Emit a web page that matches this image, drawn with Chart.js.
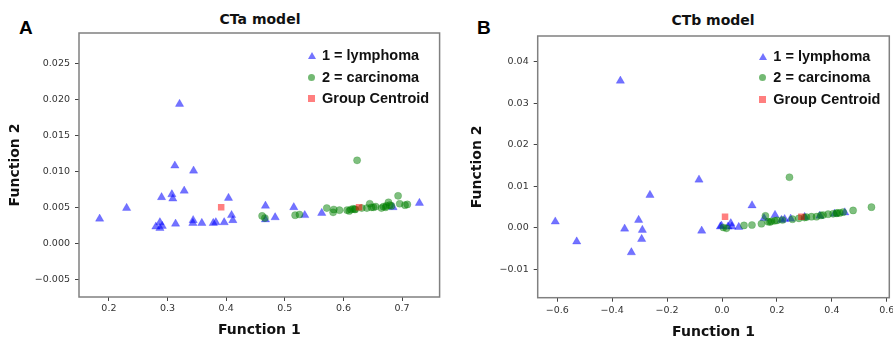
<!DOCTYPE html>
<html>
<head>
<meta charset="utf-8">
<script src="https://cdn.jsdelivr.net/npm/chart.js@4.4.0/dist/chart.umd.min.js"></script>
<style>
    html, body { margin: 0; padding: 0; background: #fff; }
    body { width: 893px; height: 341px; overflow: hidden; position: relative; }
    canvas { position: absolute; top: 0; }
    .panel-letter { position: absolute; font: bold 19px "Liberation Sans", Arial, sans-serif; line-height: 20px; color: #000; }
    .panel-title { position: absolute; width: 200px; text-align: center; font: bold 14px "DejaVu Sans", sans-serif; line-height: 16px; color: #111; }
    .legend-row { position: absolute; white-space: nowrap; font: bold 14.5px "Liberation Sans", Arial, sans-serif; line-height: 18px; color: #111; }
    .mk { position: absolute; }
    .mk.triangle { width: 0; height: 0; border-left: 4px solid transparent; border-right: 4px solid transparent; border-bottom: 7px solid rgba(0, 0, 255, 0.55); }
    .mk.circle { width: 7px; height: 7px; border-radius: 50%; background: rgba(0, 128, 0, 0.55); }
    .mk.rect { width: 7px; height: 7px; background: rgba(255, 0, 0, 0.5); }
</style>
</head>
<body>
<div class="panel-letter" style="left:19px; top:18px;">A</div>
<div class="panel-title" style="left:160px; top:11px;">CTa model</div>
<div class="panel-letter" style="left:477px; top:18px;">B</div>
<div class="panel-title" style="left:613px; top:12px;">CTb model</div>
<canvas id="ctaChart" width="445" height="341" style="left:0;"></canvas>
<canvas id="ctbChart" width="460" height="341" style="left:445px;"></canvas>
<div id="legendA"></div>
<div id="legendB"></div>
<script>
// 圖例
const seriesNames = ["1 = lymphoma", "2 = carcinoma", "Group Centroid"];

// CTa model [Function 1, Function 2]
const ctaLymphoma = [
    [0.3205, 0.0194], [0.3125, 0.0108], [0.3444, 0.0101], [0.3284, 0.0073], [0.3074, 0.0068],
    [0.309, 0.0062], [0.2898, 0.0064], [0.404, 0.0063], [0.2302, 0.0049], [0.1842, 0.0034],
    [0.4092, 0.0039], [0.4114, 0.0032], [0.3966, 0.0029], [0.3824, 0.0029], [0.378, 0.0028],
    [0.3585, 0.0028], [0.3437, 0.0032], [0.3432, 0.0028], [0.3137, 0.0027], [0.287, 0.0029],
    [0.2801, 0.0023], [0.287, 0.0021], [0.291, 0.0024], [0.467, 0.0052], [0.4835, 0.0036],
    [0.5153, 0.0050], [0.534, 0.0039], [0.563, 0.0042], [0.7296, 0.0056], [0.6846, 0.0050],
    [0.467, 0.0033]
];
const ctaCarcinoma = [
    [0.6233, 0.01155], [0.4613, 0.0038], [0.466, 0.0035], [0.5176, 0.0039], [0.525, 0.0040],
    [0.5716, 0.0049], [0.5824, 0.0043], [0.5835, 0.0047], [0.5932, 0.0046], [0.6062, 0.0046],
    [0.6125, 0.0047], [0.6164, 0.0048], [0.6193, 0.00475], [0.6312, 0.0049], [0.6449, 0.0055],
    [0.6478, 0.0050], [0.6512, 0.0050], [0.6648, 0.0049], [0.6682, 0.0051], [0.6733, 0.0052],
    [0.6768, 0.0057], [0.679, 0.0053], [0.6819, 0.0052], [0.6932, 0.0066], [0.696, 0.0055],
    [0.705, 0.0053], [0.709, 0.0054], [0.61, 0.0045], [0.62, 0.0047], [0.655, 0.0051],
    [0.672, 0.0050], [0.64, 0.0049]
];
const ctaCentroid = [[0.3915, 0.0050], [0.6266, 0.0050]];

// CTb model
const ctbLymphoma = [
    [-0.370, 0.0354], [-0.0838, 0.0116], [-0.2623, 0.0079], [-0.607, 0.0015], [-0.3035, 0.0019],
    [-0.3545, -0.0002], [-0.29, -0.0005], [-0.2925, -0.0027], [-0.529, -0.0033], [-0.074, -0.0007],
    [-0.006, 0.0003], [-0.330, -0.0059], [0.1093, 0.0054], [-0.002, 0.0005], [0.022, 0.0003],
    [0.032, 0.0011], [0.036, 0.0003], [0.061, 0.0002], [0.153, 0.0023], [0.193, 0.0031],
    [0.2164, 0.0019], [0.228, 0.0021], [0.301, 0.0026], [0.356, 0.0029], [0.447, 0.0037],
    [0.25, 0.0022], [0.41, 0.0034]
];
const ctbCarcinoma = [
    [0.2455, 0.0122], [0.016, -0.0001], [0.080, 0.0006], [0.109, 0.0007], [0.1435, 0.0010],
    [0.158, 0.0029], [0.1676, 0.0015], [0.18, 0.0016], [0.192, 0.0017], [0.2565, 0.0021],
    [0.3075, 0.0026], [0.3257, 0.0027], [0.3439, 0.0027], [0.368, 0.0031], [0.3862, 0.0033],
    [0.4044, 0.0034], [0.4168, 0.0035], [0.4288, 0.0036], [0.4408, 0.0038], [0.4772, 0.0042],
    [0.544, 0.0050], [0.175, 0.0014], [0.2, 0.0018], [0.22, 0.0019], [0.28, 0.0023],
    [0.3, 0.0025], [0.36, 0.0030], [0.42, 0.0036], [0.005, 0.0001]
];
const ctbCentroid = [[0.011, 0.0027], [0.289, 0.0027]];

// 刻度
const ctaXTicks = [0.2, 0.3, 0.4, 0.5, 0.6, 0.7];
const ctaYTicks = [-0.005, 0, 0.005, 0.010, 0.015, 0.020, 0.025];
const ctbXTicks = [-0.6, -0.4, -0.2, 0, 0.2, 0.4, 0.6];
const ctbYTicks = [-0.01, 0, 0.01, 0.02, 0.03, 0.04];

const tickFont = { family: "'DejaVu Sans', sans-serif", size: 9.5 };
const axisTitleFont = { family: "'DejaVu Sans', sans-serif", size: 14, weight: 'bold' };

// 外框
const framePlugin = {
    id: 'frame',
    afterDatasetsDraw(chart) {
        const { ctx, chartArea: a } = chart;
        ctx.save();
        ctx.strokeStyle = '#808080';
        ctx.lineWidth = 1.5;
        ctx.strokeRect(a.left, a.top, a.right - a.left, a.bottom - a.top);
        ctx.restore();
    }
};

function toPoints(arr) {
    return arr.map(p => ({ x: p[0], y: p[1] }));
}

function fmt(digits) {
    return function (value) {
        return Number(value).toFixed(digits).replace('-', '\u2212');
    };
}

function scatterChart(canvasId, sets, opt) {
    return new Chart(document.getElementById(canvasId), {
        type: 'scatter',
        data: {
            datasets: [{
                label: seriesNames[0],
                data: toPoints(sets[0]),
                pointStyle: 'triangle',
                pointRadius: 4.8,
                backgroundColor: 'rgba(0, 0, 255, 0.55)',
                borderColor: 'rgba(0, 0, 255, 0.35)',
                borderWidth: 0.6,
                order: 3
            }, {
                label: seriesNames[1],
                data: toPoints(sets[1]),
                pointStyle: 'circle',
                pointRadius: 3.6,
                backgroundColor: 'rgba(0, 128, 0, 0.5)',
                borderColor: 'rgba(0, 128, 0, 0.35)',
                borderWidth: 0.6,
                order: 2
            }, {
                label: seriesNames[2],
                data: toPoints(sets[2]),
                pointStyle: 'rect',
                pointRadius: 4.6,
                backgroundColor: 'rgba(255, 0, 0, 0.5)',
                borderWidth: 0,
                order: 1
            }]
        },
        options: {
            responsive: false,
            animation: false,
            layout: { padding: opt.padding },
            plugins: {
                legend: { display: false },
                tooltip: { enabled: false }
            },
            scales: {
                x: {
                    type: 'linear',
                    min: opt.xMin,
                    max: opt.xMax,
                    afterBuildTicks: s => { s.ticks = opt.xTicks.map(v => ({ value: v })); },
                    afterFit: s => { s.height = opt.xHeight; },
                    ticks: {
                        font: tickFont,
                        color: '#333',
                        padding: opt.xTickPad,
                        maxRotation: 0,
                        callback: fmt(opt.xDigits)
                    },
                    grid: { drawOnChartArea: false, tickLength: 4, color: '#444' },
                    border: { display: false },
                    title: {
                        display: true,
                        text: 'Function 1',
                        font: axisTitleFont,
                        color: '#111',
                        padding: { top: 0, bottom: opt.xTitlePad }
                    }
                },
                y: {
                    type: 'linear',
                    min: opt.yMin,
                    max: opt.yMax,
                    afterBuildTicks: s => { s.ticks = opt.yTicks.map(v => ({ value: v })); },
                    afterFit: s => { s.width = opt.yWidth; },
                    ticks: {
                        font: tickFont,
                        color: '#333',
                        padding: 5,
                        callback: fmt(opt.yDigits)
                    },
                    grid: { drawOnChartArea: false, tickLength: 4, color: '#444' },
                    border: { display: false },
                    title: {
                        display: true,
                        text: 'Function 2',
                        font: axisTitleFont,
                        color: '#111',
                        padding: { top: opt.yTitlePad, bottom: 0 }
                    }
                }
            }
        },
        plugins: [framePlugin]
    });
}

scatterChart('ctaChart', [ctaLymphoma, ctaCarcinoma, ctaCentroid], {
    xMin: 0.149, xMax: 0.764, yMin: -0.0075, yMax: 0.0293,
    xTicks: ctaXTicks, yTicks: ctaYTicks, xDigits: 1, yDigits: 3,
    padding: { top: 33, right: 5, bottom: 0, left: 0 },
    yWidth: 79, xHeight: 44, xTickPad: 2, xTitlePad: 2, yTitlePad: 6.6
});

scatterChart('ctbChart', [ctbLymphoma, ctbCarcinoma, ctbCentroid], {
    xMin: -0.671, xMax: 0.609, yMin: -0.0168, yMax: 0.0462,
    xTicks: ctbXTicks, yTicks: ctbYTicks, xDigits: 1, yDigits: 2,
    padding: { top: 36, right: 15.7, bottom: 0, left: 0 },
    yWidth: 92.7, xHeight: 43.3, xTickPad: 3.5, xTitlePad: 0, yTitlePad: 24
});

// 圖例 (HTML)
function buildLegend(id, markerX, textX, rowsY) {
    const el = document.getElementById(id);
    const shapes = ['triangle', 'circle', 'rect'];
    shapes.forEach((shape, i) => {
        const mk = document.createElement('div');
        mk.className = 'mk ' + shape;
        mk.style.left = (markerX - 4) + 'px';
        mk.style.top = (rowsY[i] - 3.5) + 'px';
        el.appendChild(mk);
        const row = document.createElement('div');
        row.className = 'legend-row';
        row.textContent = seriesNames[i];
        row.style.left = textX + 'px';
        row.style.top = (rowsY[i] - 9) + 'px';
        el.appendChild(row);
    });
}
buildLegend('legendA', 312, 322, [55, 77, 98.3]);
buildLegend('legendB', 762.7, 773.3, [56, 77.3, 99]);
</script>
</body>
</html>
